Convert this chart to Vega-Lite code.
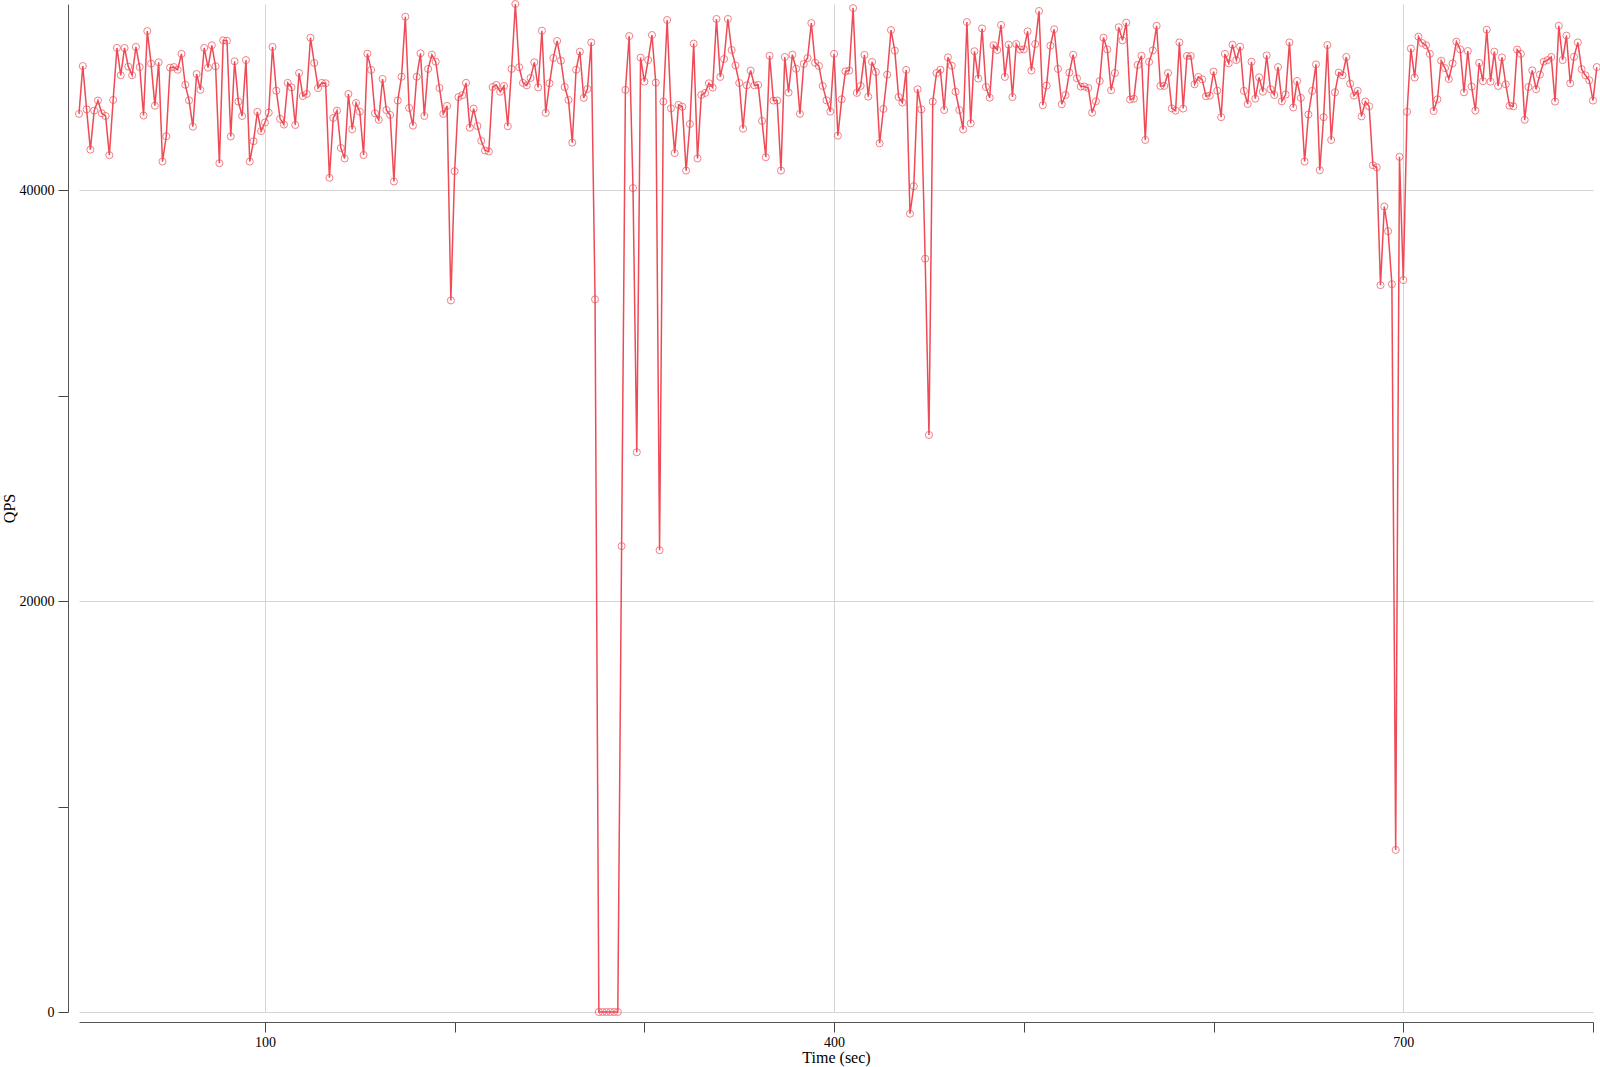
{
"$schema": "https://vega.github.io/schema/vega-lite/v6.json",
"width": 1514, "height": 1008, "autosize": "none",
"padding": {"left": 79, "top": 4, "right": 7, "bottom": 55},
"background": "white",
"config": {"font": "Liberation Serif", "view": {"stroke": null},
 "axis": {"labelFont": "Liberation Serif", "titleFont": "Liberation Serif", "labelFontSize": 14, "titleFontSize": 16, "titleFontWeight": "normal", "labelColor": "#000", "titleColor": "#000", "domainColor": "#555", "tickColor": "#444", "gridColor": "#d4d4d4", "tickSize": 10, "domainWidth": 1, "tickWidth": 1}},
"data": {"values": [
{"t":2,"qps":43720},{"t":4,"qps":46050},{"t":6,"qps":43940},{"t":8,"qps":41980},{"t":10,"qps":43880},{"t":12,"qps":44370},{"t":14,"qps":43750},{"t":16,"qps":43620},{"t":18,"qps":41710},{"t":20,"qps":44400},
{"t":22,"qps":46930},{"t":24,"qps":45600},{"t":26,"qps":46930},{"t":28,"qps":46020},{"t":30,"qps":45600},{"t":32,"qps":46980},{"t":34,"qps":46000},{"t":36,"qps":43640},{"t":38,"qps":47750},{"t":40,"qps":46170},
{"t":42,"qps":44120},{"t":44,"qps":46230},{"t":46,"qps":41400},{"t":48,"qps":42630},{"t":50,"qps":45970},{"t":52,"qps":46000},{"t":54,"qps":45870},{"t":56,"qps":46640},{"t":58,"qps":45140},{"t":60,"qps":44380},
{"t":62,"qps":43100},{"t":64,"qps":45660},{"t":66,"qps":44890},{"t":68,"qps":46930},{"t":70,"qps":45970},{"t":72,"qps":47060},{"t":74,"qps":46040},{"t":76,"qps":41320},{"t":78,"qps":47300},{"t":80,"qps":47280},
{"t":82,"qps":42620},{"t":84,"qps":46280},{"t":86,"qps":44320},{"t":88,"qps":43620},{"t":90,"qps":46340},{"t":92,"qps":41400},{"t":94,"qps":42390},{"t":96,"qps":43820},{"t":98,"qps":42880},{"t":100,"qps":43300},
{"t":102,"qps":43780},{"t":104,"qps":46980},{"t":106,"qps":44850},{"t":108,"qps":43480},{"t":110,"qps":43200},{"t":112,"qps":45230},{"t":114,"qps":45010},{"t":116,"qps":43180},{"t":118,"qps":45710},{"t":120,"qps":44590},
{"t":122,"qps":44690},{"t":124,"qps":47430},{"t":126,"qps":46200},{"t":128,"qps":44980},{"t":130,"qps":45230},{"t":132,"qps":45210},{"t":134,"qps":40610},{"t":136,"qps":43520},{"t":138,"qps":43880},{"t":140,"qps":42060},
{"t":142,"qps":41550},{"t":144,"qps":44690},{"t":146,"qps":42970},{"t":148,"qps":44250},{"t":150,"qps":43830},{"t":152,"qps":41720},{"t":154,"qps":46650},{"t":156,"qps":45860},{"t":158,"qps":43750},{"t":160,"qps":43430},
{"t":162,"qps":45420},{"t":164,"qps":43910},{"t":166,"qps":43670},{"t":168,"qps":40430},{"t":170,"qps":44370},{"t":172,"qps":45530},{"t":174,"qps":48450},{"t":176,"qps":44010},{"t":178,"qps":43150},{"t":180,"qps":45530},
{"t":182,"qps":46670},{"t":184,"qps":43620},{"t":186,"qps":45910},{"t":188,"qps":46600},{"t":190,"qps":46260},{"t":192,"qps":44980},{"t":194,"qps":43720},{"t":196,"qps":44110},{"t":198,"qps":34640},{"t":200,"qps":40930},
{"t":202,"qps":44540},{"t":204,"qps":44630},{"t":206,"qps":45230},{"t":208,"qps":43050},{"t":210,"qps":43980},{"t":212,"qps":43130},{"t":214,"qps":42410},{"t":216,"qps":41940},{"t":218,"qps":41890},{"t":220,"qps":45030},
{"t":222,"qps":45130},{"t":224,"qps":44800},{"t":226,"qps":45080},{"t":228,"qps":43120},{"t":230,"qps":45910},{"t":232,"qps":49070},{"t":234,"qps":45990},{"t":236,"qps":45230},{"t":238,"qps":45110},{"t":240,"qps":45470},
{"t":242,"qps":46230},{"t":244,"qps":45010},{"t":246,"qps":47770},{"t":248,"qps":43770},{"t":250,"qps":45210},{"t":252,"qps":46440},{"t":254,"qps":47270},{"t":256,"qps":46310},{"t":258,"qps":45030},{"t":260,"qps":44400},
{"t":262,"qps":42320},{"t":264,"qps":45870},{"t":266,"qps":46750},{"t":268,"qps":44500},{"t":270,"qps":44930},{"t":272,"qps":47200},{"t":274,"qps":34690},{"t":276,"qps":0},{"t":278,"qps":0},{"t":280,"qps":0},
{"t":282,"qps":0},{"t":284,"qps":0},{"t":286,"qps":0},{"t":288,"qps":22680},{"t":290,"qps":44890},{"t":292,"qps":47510},{"t":294,"qps":40110},{"t":296,"qps":27250},{"t":298,"qps":46460},{"t":300,"qps":45290},
{"t":302,"qps":46340},{"t":304,"qps":47560},{"t":306,"qps":45240},{"t":308,"qps":22480},{"t":310,"qps":44320},{"t":312,"qps":48290},{"t":314,"qps":43990},{"t":316,"qps":41810},{"t":318,"qps":44160},{"t":320,"qps":44070},
{"t":322,"qps":40960},{"t":324,"qps":43230},{"t":326,"qps":47140},{"t":328,"qps":41550},{"t":330,"qps":44640},{"t":332,"qps":44740},{"t":334,"qps":45210},{"t":336,"qps":45000},{"t":338,"qps":48340},{"t":340,"qps":45520},
{"t":342,"qps":46390},{"t":344,"qps":48340},{"t":346,"qps":46830},{"t":348,"qps":46080},{"t":350,"qps":45230},{"t":352,"qps":43000},{"t":354,"qps":45110},{"t":356,"qps":45830},{"t":358,"qps":45110},{"t":360,"qps":45130},
{"t":362,"qps":43380},{"t":364,"qps":41610},{"t":366,"qps":46550},{"t":368,"qps":44370},{"t":370,"qps":44370},{"t":372,"qps":40960},{"t":374,"qps":46490},{"t":376,"qps":44760},{"t":378,"qps":46600},{"t":380,"qps":45920},
{"t":382,"qps":43720},{"t":384,"qps":46150},{"t":386,"qps":46440},{"t":388,"qps":48140},{"t":390,"qps":46210},{"t":392,"qps":46050},{"t":394,"qps":45080},{"t":396,"qps":44380},{"t":398,"qps":43830},{"t":400,"qps":46640},
{"t":402,"qps":42660},{"t":404,"qps":44430},{"t":406,"qps":45790},{"t":408,"qps":45830},{"t":410,"qps":48870},{"t":412,"qps":44740},{"t":414,"qps":45080},{"t":416,"qps":46590},{"t":418,"qps":44560},{"t":420,"qps":46250},
{"t":422,"qps":45760},{"t":424,"qps":42290},{"t":426,"qps":43960},{"t":428,"qps":45630},{"t":430,"qps":47800},{"t":432,"qps":46800},{"t":434,"qps":44540},{"t":436,"qps":44270},{"t":438,"qps":45860},{"t":440,"qps":38860},
{"t":442,"qps":40200},{"t":444,"qps":44920},{"t":446,"qps":43940},{"t":448,"qps":36670},{"t":450,"qps":28090},{"t":452,"qps":44320},{"t":454,"qps":45710},{"t":456,"qps":45870},{"t":458,"qps":43910},{"t":460,"qps":46470},
{"t":462,"qps":46070},{"t":464,"qps":44800},{"t":466,"qps":43910},{"t":468,"qps":42960},{"t":470,"qps":48190},{"t":472,"qps":43260},{"t":474,"qps":46770},{"t":476,"qps":45440},{"t":478,"qps":47880},{"t":480,"qps":45030},
{"t":482,"qps":44510},{"t":484,"qps":47060},{"t":486,"qps":46830},{"t":488,"qps":48050},{"t":490,"qps":45520},{"t":492,"qps":47090},{"t":494,"qps":44540},{"t":496,"qps":47120},{"t":498,"qps":46850},{"t":500,"qps":46860},
{"t":502,"qps":47740},{"t":504,"qps":45830},{"t":506,"qps":47120},{"t":508,"qps":48730},{"t":510,"qps":44140},{"t":512,"qps":45100},{"t":514,"qps":47040},{"t":516,"qps":47840},{"t":518,"qps":45910},{"t":520,"qps":44190},
{"t":522,"qps":44640},{"t":524,"qps":45730},{"t":526,"qps":46600},{"t":528,"qps":45450},{"t":530,"qps":45050},{"t":532,"qps":45050},{"t":534,"qps":44980},{"t":536,"qps":43780},{"t":538,"qps":44330},{"t":540,"qps":45320},
{"t":542,"qps":47430},{"t":544,"qps":46860},{"t":546,"qps":44870},{"t":548,"qps":45710},{"t":550,"qps":47940},{"t":552,"qps":47300},{"t":554,"qps":48160},{"t":556,"qps":44420},{"t":558,"qps":44460},{"t":560,"qps":46100},
{"t":562,"qps":46550},{"t":564,"qps":42450},{"t":566,"qps":46250},{"t":568,"qps":46810},{"t":570,"qps":48010},{"t":572,"qps":45080},{"t":574,"qps":45080},{"t":576,"qps":45710},{"t":578,"qps":43990},{"t":580,"qps":43880},
{"t":582,"qps":47200},{"t":584,"qps":43980},{"t":586,"qps":46540},{"t":588,"qps":46540},{"t":590,"qps":45160},{"t":592,"qps":45520},{"t":594,"qps":45400},{"t":596,"qps":44580},{"t":598,"qps":44610},{"t":600,"qps":45780},
{"t":602,"qps":44850},{"t":604,"qps":43560},{"t":606,"qps":46640},{"t":608,"qps":46180},{"t":610,"qps":47090},{"t":612,"qps":46340},{"t":614,"qps":46990},{"t":616,"qps":44840},{"t":618,"qps":44200},{"t":620,"qps":46260},
{"t":622,"qps":44460},{"t":624,"qps":45500},{"t":626,"qps":44800},{"t":628,"qps":46570},{"t":630,"qps":44920},{"t":632,"qps":44640},{"t":634,"qps":46000},{"t":636,"qps":44330},{"t":638,"qps":44660},{"t":640,"qps":47200},
{"t":642,"qps":44030},{"t":644,"qps":45320},{"t":646,"qps":44500},{"t":648,"qps":41400},{"t":650,"qps":43690},{"t":652,"qps":44840},{"t":654,"qps":46130},{"t":656,"qps":40980},{"t":658,"qps":43560},{"t":660,"qps":47070},
{"t":662,"qps":42450},{"t":664,"qps":44770},{"t":666,"qps":45730},{"t":668,"qps":45600},{"t":670,"qps":46490},{"t":672,"qps":45190},{"t":674,"qps":44610},{"t":676,"qps":44840},{"t":678,"qps":43600},{"t":680,"qps":44320},
{"t":682,"qps":44090},{"t":684,"qps":41220},{"t":686,"qps":41120},{"t":688,"qps":35380},{"t":690,"qps":39210},{"t":692,"qps":38010},{"t":694,"qps":35430},{"t":696,"qps":7890},{"t":698,"qps":41630},{"t":700,"qps":35630},
{"t":702,"qps":43820},{"t":704,"qps":46900},{"t":706,"qps":45490},{"t":708,"qps":47480},{"t":710,"qps":47170},{"t":712,"qps":47060},{"t":714,"qps":46640},{"t":716,"qps":43860},{"t":718,"qps":44430},{"t":720,"qps":46310},
{"t":722,"qps":45950},{"t":724,"qps":45420},{"t":726,"qps":46180},{"t":728,"qps":47240},{"t":730,"qps":46860},{"t":732,"qps":44770},{"t":734,"qps":46780},{"t":736,"qps":45050},{"t":738,"qps":43880},{"t":740,"qps":46200},
{"t":742,"qps":45310},{"t":744,"qps":47820},{"t":746,"qps":45290},{"t":748,"qps":46750},{"t":750,"qps":45080},{"t":752,"qps":46470},{"t":754,"qps":45160},{"t":756,"qps":44120},{"t":758,"qps":44090},{"t":760,"qps":46850},
{"t":762,"qps":46640},{"t":764,"qps":43430},{"t":766,"qps":45030},{"t":768,"qps":45840},{"t":770,"qps":44920},{"t":772,"qps":45630},{"t":774,"qps":46260},{"t":776,"qps":46340},{"t":778,"qps":46490},{"t":780,"qps":44320},
{"t":782,"qps":48010},{"t":784,"qps":46340},{"t":786,"qps":47530},{"t":788,"qps":45210},{"t":790,"qps":46500},{"t":792,"qps":47200},{"t":794,"qps":45900},{"t":796,"qps":45600},{"t":798,"qps":45360},{"t":800,"qps":44370},
{"t":802,"qps":46000}
]},
"encoding": {
 "x": {"field": "t", "type": "quantitative", "scale": {"domain": [2, 800], "nice": false, "zero": false},
  "axis": {"title": "Time (sec)", "values": [100,200,300,400,500,600,700,800], "offset": 10, "labelPadding": 3, "titlePadding": 0,
   "labelExpr": "(datum.value - 100) % 300 === 0 ? datum.label : ''",
   "gridOpacity": {"condition": {"test": "(datum.value - 100) % 300 === 0", "value": 1}, "value": 0}}},
 "y": {"field": "qps", "type": "quantitative", "scale": {"domain": [0, 49070], "nice": false},
  "axis": {"title": "QPS", "values": [0,10000,20000,30000,40000], "format": "d", "offset": 11, "labelPadding": 4, "titlePadding": 2,
   "labelExpr": "datum.value % 20000 === 0 ? datum.label : ''",
   "gridOpacity": {"condition": {"test": "datum.value % 20000 === 0", "value": 1}, "value": 0}}}
},
"layer": [
 {"mark": {"type": "line", "color": "#ef4a55", "strokeWidth": 1.5}},
 {"mark": {"type": "point", "shape": "circle", "filled": false, "color": "#ef4a55", "size": 50, "strokeWidth": 1, "opacity": 0.7}}
]
}
